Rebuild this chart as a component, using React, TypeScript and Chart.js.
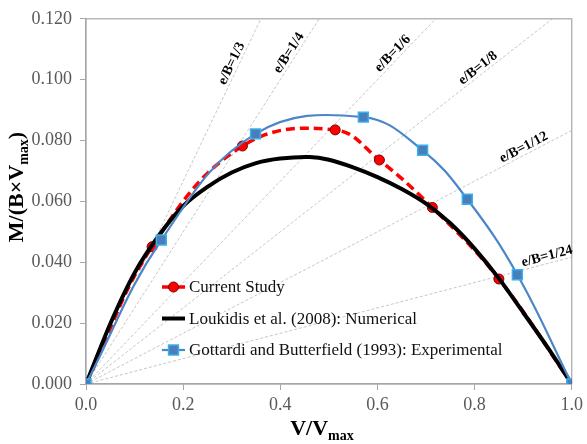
import React, { useEffect, useRef } from "react";
import { Chart, registerables } from "chart.js";

Chart.register(...registerables);

// ---- data ----
const currentX = [0, 0.136, 0.322, 0.513, 0.604, 0.713, 0.85, 1.0];
const currentY = [0, 0.0451, 0.0782, 0.0835, 0.0736, 0.058, 0.0345, 0];

const loukidisX = [0, 0.05, 0.1, 0.15, 0.2, 0.25, 0.3, 0.35, 0.4, 0.46, 0.5, 0.55, 0.6, 0.65, 0.7, 0.75, 0.8, 0.85, 0.9, 0.95, 1.0];
const loukidisY = [0, 0.0198, 0.0365, 0.0488, 0.0585, 0.0648, 0.0695, 0.0726, 0.0741, 0.0746, 0.0737, 0.0712, 0.068, 0.0641, 0.0593, 0.0528, 0.0445, 0.0347, 0.0235, 0.0121, 0];

const gottardiX = [0, 0.155, 0.349, 0.571, 0.693, 0.785, 0.888, 1.0];
const gottardiY = [0, 0.0473, 0.0822, 0.0877, 0.0768, 0.0607, 0.0359, 0];

const eccNum = [1, 1, 1, 1, 1, 1];
const eccDen = [3, 4, 6, 8, 12, 24];
const eccLabelAt = [0.313, 0.43, 0.642, 0.816, 0.908, 0.953];

const seriesNames = [
  "Current Study",
  "Loukidis et al. (2008): Numerical",
  "Gottardi and Butterfield (1993): Experimental",
];

const xMin = 0, xMax = 1.0, xStep = 0.2;
const yMin = 0, yMax = 0.12, yStep = 0.02;

const SERIF = "'Liberation Serif', 'Times New Roman', serif";

const toPts = (xs: number[], ys: number[]) => xs.map((x, i) => ({ x, y: ys[i] }));

const frameAndLabels = {
  id: "frameAndLabels",
  beforeDatasetsDraw(chart: any) {
    const { ctx, chartArea: a } = chart;
    ctx.save();
    ctx.strokeStyle = "#A6A6A6";
    ctx.lineWidth = 1.2;
    ctx.strokeRect(a.left, a.top, a.right - a.left, a.bottom - a.top);
    ctx.restore();
  },
  afterDatasetsDraw(chart: any) {
    const { ctx, chartArea: a, scales } = chart;
    const xs = scales.x, ys = scales.y;
    ctx.save();
    // eccentricity labels
    ctx.font = `bold 14px ${SERIF}`;
    ctx.fillStyle = "#000";
    ctx.textAlign = "center";
    ctx.textBaseline = "middle";
    eccDen.forEach((d, i) => {
      const s = eccNum[i] / d;
      const xv = eccLabelAt[i];
      const px = xs.getPixelForValue(xv);
      const py = ys.getPixelForValue(s * xv);
      const p0x = xs.getPixelForValue(0), p0y = ys.getPixelForValue(0);
      const ang = Math.atan2(py - p0y, px - p0x);
      const off = 7;
      const nx = Math.sin(ang) * off, ny = -Math.cos(ang) * off;
      ctx.save();
      ctx.translate(px + nx, py + ny);
      ctx.rotate(ang);
      ctx.fillText(`e/B=${eccNum[i]}/${d}`, 0, 0);
      ctx.restore();
    });

    // legend
    const order = [2, 1, 0]; // dataset indices: current, loukidis, gottardi
    const lx0 = a.left + 76, lx1 = a.left + 99, tx = a.left + 103;
    order.forEach((di, i) => {
      const ds = chart.data.datasets[di];
      const y = 287 + i * 31.5;
      ctx.save();
      ctx.strokeStyle = ds.borderColor;
      ctx.lineWidth = ds.borderWidth;
      ctx.setLineDash([]);
      ctx.beginPath();
      ctx.moveTo(lx0, y);
      ctx.lineTo(lx1, y);
      ctx.stroke();
      const cx = (lx0 + lx1) / 2;
      if (ds.pointRadius > 0) {
        ctx.fillStyle = ds.pointBackgroundColor;
        ctx.strokeStyle = ds.pointBorderColor;
        ctx.lineWidth = ds.pointBorderWidth;
        ctx.beginPath();
        if (ds.pointStyle === "rect") {
          const h = Math.SQRT1_2 * ds.pointRadius;
          ctx.rect(cx - h, y - h, 2 * h, 2 * h);
        } else {
          ctx.arc(cx, y, ds.pointRadius, 0, Math.PI * 2);
        }
        ctx.fill();
        ctx.stroke();
      }
      ctx.fillStyle = "#111";
      ctx.font = `17px ${SERIF}`;
      ctx.textAlign = "left";
      ctx.textBaseline = "middle";
      ctx.fillText(seriesNames[i], tx, y + 1);
      ctx.restore();
    });

    // axis titles
    const drawSub = (main: string, sub: string, tail: string) => {
      ctx.font = `bold 22px ${SERIF}`;
      const w1 = ctx.measureText(main).width;
      const w3 = ctx.measureText(tail).width;
      ctx.font = `bold 14px ${SERIF}`;
      const w2 = ctx.measureText(sub).width;
      const total = w1 + w2 + w3;
      let x = -total / 2;
      ctx.textAlign = "left";
      ctx.textBaseline = "alphabetic";
      ctx.font = `bold 22px ${SERIF}`;
      ctx.fillText(main, x, 0);
      x += w1;
      ctx.font = `bold 14px ${SERIF}`;
      ctx.fillText(sub, x, 5);
      x += w2;
      ctx.font = `bold 22px ${SERIF}`;
      ctx.fillText(tail, x, 0);
    };
    ctx.fillStyle = "#000";
    ctx.save();
    ctx.translate(322, 435);
    drawSub("V/V", "max", "");
    ctx.restore();
    ctx.save();
    ctx.translate(23, 187);
    ctx.rotate(-Math.PI / 2);
    drawSub("M/(B\u00D7V", "max", ")");
    ctx.restore();
    ctx.restore();
  },
};

export default function App() {
  const ref = useRef<HTMLCanvasElement>(null);
  useEffect(() => {
    if (!ref.current) return;
    const radial = eccDen.map((d, i) => {
      const s = eccNum[i] / d;
      const xe = Math.min(xMax, yMax / s);
      return {
        label: `e/B=1/${d}`,
        data: [{ x: 0, y: 0 }, { x: xe, y: s * xe }],
        showLine: true,
        borderColor: "#B8B8B8",
        borderWidth: 0.8,
        borderDash: [3, 2],
        pointRadius: 0,
        order: 10,
      };
    });
    const chart = new Chart(ref.current, {
      type: "scatter",
      data: {
        datasets: [
          {
            label: seriesNames[2],
            data: toPts(gottardiX, gottardiY),
            showLine: true,
            borderColor: "#4A86C8",
            borderWidth: 2.2,
            tension: 0.4,
            pointStyle: "rect",
            pointRadius: 7,
            pointBackgroundColor: "#4A7EBB",
            pointBorderColor: "#38B0EC",
            pointBorderWidth: 1.5,
            order: 0,
          } as any,
          {
            label: seriesNames[1],
            data: toPts(loukidisX, loukidisY),
            showLine: true,
            borderColor: "#000000",
            borderWidth: 4,
            tension: 0.25,
            pointRadius: 0,
            order: 1,
          },
          {
            label: seriesNames[0],
            data: toPts(currentX, currentY),
            showLine: true,
            borderColor: "#FF0000",
            borderWidth: 3.5,
            borderDash: [9, 5],
            tension: 0.4,
            pointStyle: "circle",
            pointRadius: 5,
            pointBackgroundColor: "#FF0000",
            pointBorderColor: "#7A0000",
            pointBorderWidth: 1,
            order: 2,
          },
          ...radial,
        ],
      },
      options: {
        animation: false,
        responsive: false,
        maintainAspectRatio: false,
        layout: { padding: { left: 0, top: 17, right: 13, bottom: 0 } },
        plugins: { legend: { display: false }, tooltip: { enabled: false }, title: { display: false } },
        scales: {
          x: {
            type: "linear",
            min: xMin,
            max: xMax,
            ticks: {
              stepSize: xStep,
              color: "#595959",
              font: { family: SERIF, size: 18 },
              padding: 4,
              callback: (v: any) => Number(v).toFixed(1),
            },
            grid: { display: true, drawOnChartArea: false, drawTicks: true, tickLength: 6, color: "#A6A6A6" },
            border: { display: true, color: "#A6A6A6", width: 1.2 },
            afterFit: (s: any) => { s.height = 60; },
          },
          y: {
            type: "linear",
            min: yMin,
            max: yMax,
            ticks: {
              stepSize: yStep,
              color: "#595959",
              font: { family: SERIF, size: 18 },
              padding: 8,
              callback: (v: any) => Number(v).toFixed(3),
            },
            grid: { display: true, drawOnChartArea: false, drawTicks: true, tickLength: 6, color: "#A6A6A6" },
            border: { display: true, color: "#A6A6A6", width: 1.2 },
            afterFit: (s: any) => { s.width = 86; },
          },
        },
      },
      plugins: [frameAndLabels],
    });
    return () => chart.destroy();
  }, []);
  return (
    <div style={{ position: "absolute", left: 0, top: 0, width: 587, height: 444, background: "#fff" }}>
      <canvas ref={ref} width={587} height={444} style={{ width: 587, height: 444 }} />
    </div>
  );
}
